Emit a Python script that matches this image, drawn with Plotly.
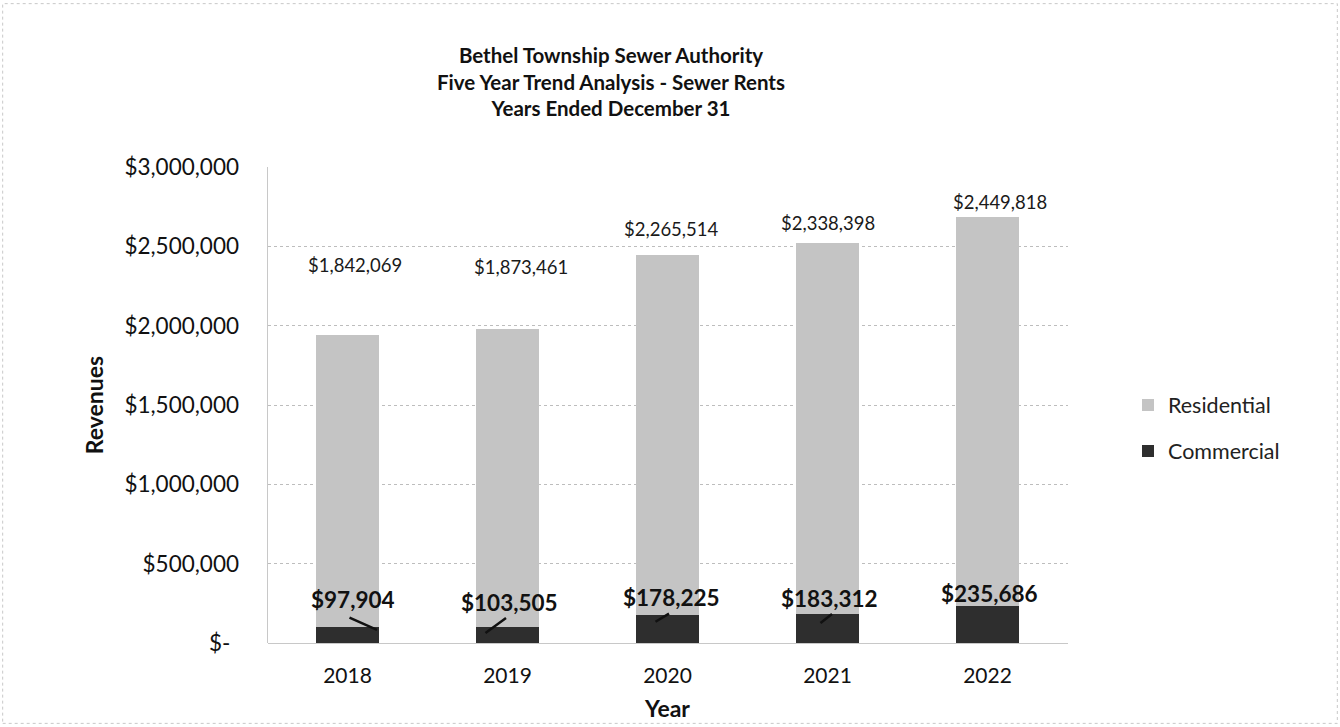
import plotly.graph_objects as go

# ---- data ----
years = ["2018", "2019", "2020", "2021", "2022"]
residential = [1842069, 1873461, 2265514, 2338398, 2449818]
commercial = [97904, 103505, 178225, 183312, 235686]
y_tick_vals = [0, 500000, 1000000, 1500000, 2000000, 2500000, 3000000]
y_tick_text = ["$-\u00a0\u2009", "$500,000", "$1,000,000", "$1,500,000",
               "$2,000,000", "$2,500,000", "$3,000,000"]

# label placement (pixel offsets, styling only)
res_dx = [7, 13, 4, 0, 12]
res_dy = [70, 62, 26, 20, 15]
com_dx = [5.5, 2, 4, 2, 2]
com_dy = [27.5, 23.6, 17.7, 15.9, 12.6]
# leader lines: tip offset from bar top and vector to line start
lead_show = [True, True, True, True, False]
lead_tx = [29.5, -22, -12, -7, 0]
lead_ty = [-2.5, -6.4, -7, -9, 0]
lead_ax = [-29, 22, 15, 13, 0]
lead_ay = [-13, -16, -9, -10, 0]

FONT = "Lato"
RES_COLOR = "#c4c4c4"
COM_COLOR = "#2e2e2e"
W, H = 1340, 727
X0, X1 = 267.5 / W, 1067.5 / W
Y0, Y1 = (H - 643) / H, (H - 167) / H

fig = go.Figure()
fig.add_trace(go.Bar(x=years, y=commercial, name="Commercial",
                     marker=dict(color=COM_COLOR, line=dict(width=0)),
                     legendrank=2, legendgroup="c", hoverinfo="x+y"))
fig.add_trace(go.Bar(x=years, y=residential, name="Residential",
                     marker=dict(color=RES_COLOR, line=dict(width=0)),
                     legendrank=1, legendgroup="r", hoverinfo="x+y"))

annotations = []
for i, yr in enumerate(years):
    total = residential[i] + commercial[i]
    annotations.append(dict(
        x=i, y=total, xref="x", yref="y", text=f"${residential[i]:,}",
        showarrow=False, xshift=res_dx[i], yshift=res_dy[i],
        yanchor="middle", xanchor="center",
        font=dict(family=FONT, size=18.5, color="#1a1a1a")))
    annotations.append(dict(
        x=i, y=commercial[i], xref="x", yref="y", text=f"<b>${commercial[i]:,}</b>",
        showarrow=False, xshift=com_dx[i], yshift=com_dy[i],
        yanchor="middle", xanchor="center",
        font=dict(family=FONT, size=22.5, color="#111111")))
    if lead_show[i]:
        annotations.append(dict(
            x=i, y=commercial[i], xref="x", yref="y", text="",
            showarrow=True, arrowhead=0, arrowwidth=2.5, arrowcolor="#111111",
            standoff=0, startstandoff=0,
            ax=lead_ax[i], ay=lead_ay[i], xshift=lead_tx[i], yshift=lead_ty[i]))

fig.update_layout(
    width=W, height=H,
    margin=dict(l=0, r=0, t=0, b=0),
    paper_bgcolor="white", plot_bgcolor="white",
    barmode="stack", bargap=0.61,
    font=dict(family=FONT, color="#111111"),
    title=dict(
        text="<b>Bethel Township Sewer Authority<br>Five Year Trend Analysis - Sewer Rents<br>Years Ended December 31</b>",
        x=611 / W, xanchor="center", y=1 - 63 / H, yanchor="middle",
        font=dict(family=FONT, size=20.5, color="#111111")),
    xaxis=dict(
        domain=[X0, X1], type="category", range=[-0.5, 4.5],
        showgrid=False, showline=True, linecolor="#c8c8c8", linewidth=1,
        ticks="outside", ticklen=14, tickcolor="rgba(0,0,0,0)",
        tickfont=dict(family=FONT, size=21, color="#111111"),
        title=dict(text="<b>Year</b>", standoff=14,
                   font=dict(family=FONT, size=23, color="#111111")),
        automargin=False, fixedrange=True),
    yaxis=dict(
        domain=[Y0, Y1], range=[0, 3000000],
        anchor="free", position=239 / W,
        tickvals=y_tick_vals, ticktext=y_tick_text,
        showgrid=True, gridcolor="#bdbdbd", griddash="dot", gridwidth=1,
        zeroline=False, showline=False, ticks="",
        tickfont=dict(family=FONT, size=22.5, color="#111111"),
        title=dict(text="<b>Revenues</b>", standoff=13,
                   font=dict(family=FONT, size=23, color="#111111")),
        automargin=False, fixedrange=True),
    legend=dict(x=1128 / W, y=1 - 428 / H, xanchor="left", yanchor="middle",
                traceorder="grouped", tracegroupgap=15,
                font=dict(family=FONT, size=21.5, color="#222222"),
                bgcolor="rgba(0,0,0,0)", itemwidth=30),
    annotations=annotations,
    shapes=[
        dict(type="line", xref="paper", yref="paper", x0=X0, x1=X0, y0=Y0, y1=Y1,
             line=dict(color="#c8c8c8", width=1)),
        dict(type="rect", xref="paper", yref="paper", x0=0.002, x1=0.998,
             y0=0.005, y1=0.995, line=dict(color="#c8c8c8", width=1, dash="dot")),
    ],
)

fig.write_html("out.html")
